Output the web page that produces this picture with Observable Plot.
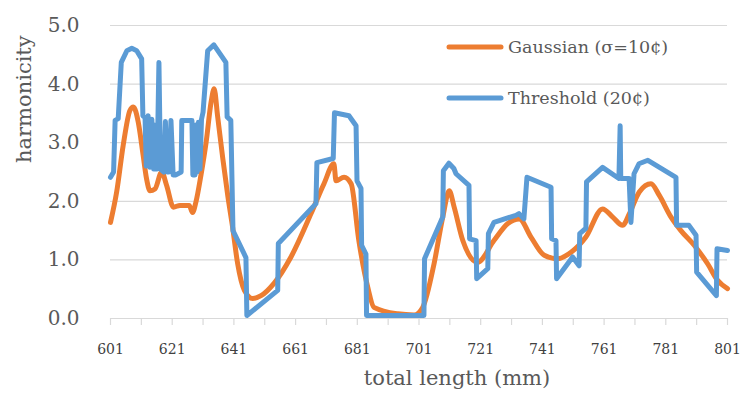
<!DOCTYPE html>
<html>
<head>
<meta charset="utf-8">
<script src="https://cdn.jsdelivr.net/npm/d3@7"></script>
<script src="https://cdn.jsdelivr.net/npm/@observablehq/plot@0.6"></script>
<style>
  html, body { margin: 0; padding: 0; background: #fff; }
  #wrap { position: relative; width: 742px; height: 397px; font-family: "DejaVu Serif", serif; }
  .legend { position: absolute; left: 446px; color: #595959; font-size: 17.5px; display: flex; align-items: center; }
  .legend svg { margin-right: 4px; }
</style>
</head>
<body>
<div id="wrap"></div>
<script>
const gaussX = [601, 603, 605.1, 607.3, 608.4, 610, 611.6, 612.7, 613.8, 615.4, 617.6, 619.2, 621.4, 623.5, 626.5, 627.6, 628.7, 630.3, 632, 633.6, 634.6, 635.7, 637.4, 639, 640.6, 642.2, 644.4, 647.1, 649.8, 654, 659.5, 666, 670.2, 673.4, 674.1, 676.7, 679, 681.5, 684.4, 686.4, 694.1, 699.4, 702.2, 705.9, 708.7, 710.8, 712.4, 715.2, 720, 725.3, 729.8, 733.5, 737.3, 741.6, 746, 750.3, 755.1, 760.5, 763.8, 767, 769.2, 772.4, 776.2, 778.9, 782.7, 785.9, 790.2, 794.6, 797.8, 801];
const gaussY = [1.64, 2.16, 2.95, 3.55, 3.61, 3.35, 2.78, 2.38, 2.18, 2.21, 2.5, 2.27, 1.9, 1.93, 1.93, 1.81, 1.99, 2.44, 3.01, 3.69, 3.92, 3.46, 2.73, 2.1, 1.55, 0.94, 0.48, 0.34, 0.39, 0.6, 1.05, 1.79, 2.3, 2.64, 2.35, 2.41, 2.3, 1.33, 0.53, 0.19, 0.08, 0.06, 0.19, 0.94, 1.73, 2.18, 1.9, 1.33, 0.96, 1.33, 1.62, 1.7, 1.39, 1.08, 1.02, 1.13, 1.39, 1.87, 1.73, 1.59, 1.79, 2.16, 2.3, 2.1, 1.73, 1.5, 1.25, 0.93, 0.65, 0.51];

const threshX = [601, 602, 602.5, 603.5, 604.5, 606.3, 607.9, 609.5, 611.1, 611.5, 612.2, 612.6, 613.2, 613.8, 614.4, 615, 615.6, 616.1, 616.7, 617.2, 618.3, 618.8, 619.3, 620, 620.6, 621.3, 622.2, 623.9, 624.1, 627.4, 627.7, 628.4, 628.7, 629.1, 629.5, 630, 630.5, 631, 632.5, 634.5, 638.4, 638.8, 640, 640.7, 644.9, 645.2, 655.2, 655.4, 667.6, 667.9, 673.2, 673.6, 678.3, 680.6, 680.9, 682.2, 682.4, 683.8, 684, 702.6, 702.8, 708.7, 708.9, 710.7, 712.3, 713, 717.2, 717.4, 719.5, 719.7, 723.3, 723.5, 725.3, 732.4, 733.4, 735, 736, 743.8, 744, 745.4, 745.6, 750.8, 752.9, 753.1, 755.1, 755.3, 760.5, 765.8, 766.2, 766.4, 769.1, 769.7, 770.7, 772.3, 775.2, 784.3, 784.5, 788.5, 790.8, 791, 797.4, 797.6, 801];
const threshY = [2.41, 2.5, 3.38, 3.41, 4.37, 4.57, 4.61, 4.57, 4.43, 3.46, 3.43, 2.6, 3.46, 2.58, 3.4, 2.55, 3.3, 2.55, 4.37, 2.55, 2.5, 3.36, 2.5, 2.5, 3.38, 2.45, 2.45, 2.5, 3.38, 3.38, 2.45, 2.45, 3.3, 2.5, 3.35, 2.55, 3.4, 3.52, 4.57, 4.67, 4.37, 3.44, 3.38, 1.5, 1.04, 0.05, 0.48, 1.28, 1.96, 2.66, 2.73, 3.51, 3.46, 3.29, 2.35, 2.22, 1.25, 1.1, 0.05, 0.05, 1.02, 1.73, 2.52, 2.65, 2.56, 2.47, 2.27, 1.36, 1.33, 0.68, 0.85, 1.45, 1.64, 1.76, 1.79, 1.7, 2.41, 2.24, 1.36, 1.33, 0.68, 1.05, 0.9, 1.45, 1.54, 2.33, 2.58, 2.39, 3.29, 2.39, 2.39, 1.64, 2.47, 2.64, 2.7, 2.41, 1.59, 1.59, 1.42, 0.79, 0.39, 1.19, 1.16];

const xTickMarks = d3.range(601, 802, 10);
const xTickLabels = d3.range(601, 802, 20);
const yTicks = [0, 1, 2, 3, 4, 5];
const seriesNames = ["Gaussian (σ=10¢)", "Threshold (20¢)"];
const seriesColors = ["#ED7D31", "#5B9BD5"];
const xTitle = "total length (mm)";
const yTitle = "harmonicity";

const gauss = gaussX.map((x, i) => ({x, y: gaussY[i]}));
const thresh = threshX.map((x, i) => ({x, y: threshY[i]}));

const chart = Plot.plot({
  width: 742,
  height: 397,
  marginLeft: 110,
  marginRight: 15,
  marginTop: 25,
  marginBottom: 79,
  style: {fontFamily: "DejaVu Serif, serif", color: "#595959", background: "#fff"},
  x: {domain: [601, 801]},
  y: {domain: [0, 5]},
  marks: [
    Plot.ruleY(yTicks, {stroke: "#d9d9d9", strokeWidth: 1.2}),
    Plot.axisX({ticks: xTickMarks, tickSize: 7, stroke: "#d9d9d9", strokeWidth: 1.2, tickFormat: null, text: null, label: null}),
    Plot.axisX({ticks: xTickLabels, tickSize: 0, tickPadding: 26, tickFormat: d => String(d), fontSize: 14, fill: "#404040", label: null}),
    Plot.axisY({ticks: yTicks, tickSize: 0, tickPadding: 31, tickFormat: d => d.toFixed(1), fontSize: 20, fill: "#595959", label: null}),
    Plot.text([xTitle], {frameAnchor: "bottom", dy: 66, dx: 38, fontSize: 21, fill: "#595959"}),
    Plot.text([yTitle], {frameAnchor: "left", rotate: -90, dx: -86, dy: -9, fontSize: 21, fill: "#595959"}),
    Plot.line(gauss, {x: "x", y: "y", stroke: seriesColors[0], strokeWidth: 5, curve: "monotone-x", strokeLinejoin: "round", strokeLinecap: "round"}),
    Plot.line(thresh, {x: "x", y: "y", stroke: seriesColors[1], strokeWidth: 5, strokeLinejoin: "round", strokeLinecap: "round"})
  ]
});

const wrap = document.getElementById("wrap");
wrap.appendChild(chart);
const legendTops = [47, 98];
seriesNames.forEach((name, i) => {
  const d = document.createElement("div");
  d.className = "legend";
  d.style.top = (legendTops[i] - 12) + "px";
  d.style.height = "24px";
  d.innerHTML = `<svg width="58" height="10"><line x1="3" y1="5" x2="55" y2="5" stroke="${seriesColors[i]}" stroke-width="5" stroke-linecap="round"/></svg><span>${name}</span>`;
  wrap.appendChild(d);
});
</script>
</body>
</html>
